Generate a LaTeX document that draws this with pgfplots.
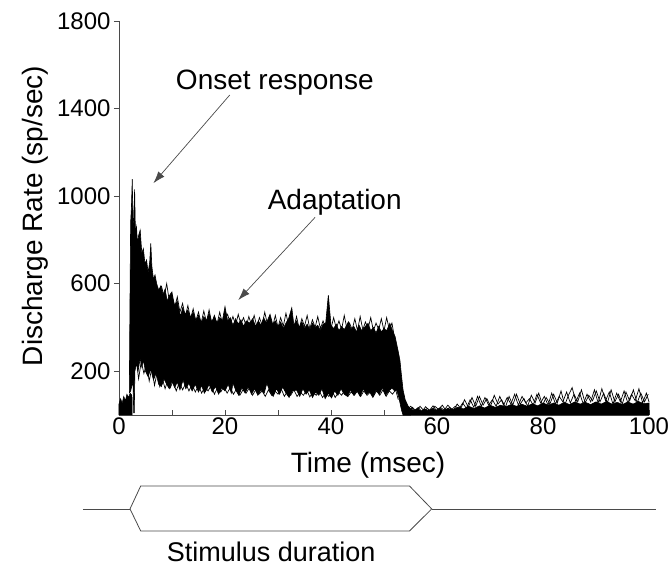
\documentclass[border=0pt]{standalone}
\usepackage{fontspec}
\setmainfont{Liberation Sans}
\usepackage{pgfplots}
\pgfplotsset{compat=1.18}
\usetikzlibrary{arrows.meta}
\definecolor{axgray}{HTML}{4A4A4A}
\begin{document}
\begin{tikzpicture}
\begin{axis}[
 scale only axis, width=530pt, height=394pt,
 xmin=0, xmax=100, ymin=0, ymax=1800,
 axis x line=bottom, axis y line=left,
 axis line style={-, draw=axgray, line width=0.8pt},
 every outer x axis line/.append style={-},
 every outer y axis line/.append style={-},
 xtick={0,20,...,100}, minor xtick={10,30,...,90},
 ytick={200,600,1000,1400,1800},
 xtick align=inside, ytick align=outside,
 major tick length=5pt, minor tick length=5pt,
 tick style={draw=axgray, line width=0.8pt},
 /pgf/number format/assume math mode=true,
 /pgf/number format/1000 sep={},
 ticklabel style={font=\fontsize{24}{24}\selectfont},
 xticklabel style={yshift=1pt},
 xlabel={Time (msec)}, ylabel={Discharge Rate (sp/sec)},
 label style={font=\fontsize{28}{28}\selectfont},
 xlabel style={at={(axis description cs:0.47,-0.127)}, anchor=center},
 ylabel style={at={(axis description cs:-0.158,0.505)}, anchor=center},
 clip=false,
]
% pre-onset cluster
\addplot[fill=black, draw=black, line width=0.5pt] coordinates {
(0,0)(0,50)(0.3,75)(0.6,55)(0.9,85)(1.2,65)(1.5,95)(1.8,80)(2.1,100)(2.45,90)(2.5,0)};
% onset + adaptation band
\addplot[fill=black, draw=black, line width=0.6pt] coordinates {
(1.95,100)(2.05,450)(2.2,880)(2.35,950)(2.5,1077)(2.65,870)(2.8,900)(2.95,1031)(3.1,830)(3.3,860)(3.5,780)(3.7,820)(4.0,845)(4.3,740)(4.6,760)(4.9,690)(5.2,708)(5.5,650)(5.8,700)(6.0,784)(6.2,680)(6.5,620)(6.8,640)(7.1,601)(7.5,570)(7.9,590)(8.3,550)(8.7,575)(9.1,520)(9.5,545)(9.9,560)(10.5,500)(11.0,520)(11.6,449)(12.0,490)(12.5,460)(13.0,480)(13.5,445)(14.0,470)(14.5,430)(15.0,455)(15.5,419)(16.0,450)(16.5,430)(17.0,465)(17.5,425)(18.0,450)(18.5,420)(19.0,445)(19.5,430)(20.0,495)(20.5,430)(21.0,445)(21.5,410)(22.0,440)(22.5,415)(23.0,435)(23.5,405)(24.0,430)(24.7,420)(25.2,440)(25.8,405)(26.3,430)(26.8,410)(27.3,445)(27.8,420)(28.5,460)(29.0,415)(29.5,430)(30.0,400)(30.5,425)(31.0,395)(31.5,420)(32.0,440)(32.6,490)(33.0,410)(33.5,430)(34.0,400)(34.5,426)(35.0,395)(35.5,415)(36.0,390)(36.5,420)(37.0,400)(37.5,410)(38.0,385)(38.5,415)(39.0,420)(39.5,548)(40.0,410)(40.5,395)(41.0,415)(41.5,385)(42.0,405)(42.5,390)(43.3,426)(43.8,390)(44.3,405)(44.8,380)(45.3,410)(45.8,385)(46.3,400)(47.0,419)(47.5,385)(48.0,400)(48.5,375)(49.0,405)(49.5,380)(50.0,395)(50.5,385)(51.1,419)(51.6,385)(52.1,358)(52.6,300)(53.0,251)(53.3,180)(53.6,114)(54.0,70)(54.6,38)(55.0,20)
(55.0,0)(53.6,0)(53.3,23)(52.8,80)(52.4,114)(52.0,110)(51.5,123)(50.9,110)(50.3,90)(49.7,125)(49.1,95)(48.5,115)(47.9,80)(47.3,105)(46.7,95)(46.1,120)(45.5,85)(44.9,110)(44.3,90)(43.7,115)(43.1,85)(42.5,95)(41.9,120)(41.3,90)(40.7,110)(40.1,78)(39.5,100)(38.9,75)(38.3,120)(37.7,90)(37.1,105)(36.5,80)(35.9,115)(35.3,95)(34.7,120)(34.1,85)(33.5,114)(32.7,110)(32.1,80)(31.5,100)(30.9,128)(30.3,95)(29.7,120)(29.1,85)(28.5,105)(27.9,145)(27.4,100)(26.8,115)(26.2,90)(25.6,120)(25.0,95)(24.4,130)(23.8,100)(23.2,125)(22.6,90)(22.0,115)(21.5,146)(21.2,100)(20.6,140)(20.0,110)(19.4,125)(18.8,95)(18.2,130)(17.6,105)(17.0,140)(16.5,114)(16.1,100)(15.6,135)(15.0,105)(14.4,140)(13.8,110)(13.2,145)(12.6,120)(12.1,160)(11.5,115)(11.0,150)(10.5,125)(10.0,155)(9.5,120)(9.0,140)(8.5,165)(8.0,130)(7.5,140)(7.0,190)(6.5,160)(6.0,210)(5.5,175)(5.0,200)(4.6,250)(4.3,220)(4.0,260)(3.6,200)(3.3,237)(3.0,200)(2.88,10)(2.78,10)(2.65,150)(2.4,130)(2.2,110)(1.95,100)};
% lower-edge single trace
\addplot[black, line width=0.7pt] coordinates {
(3.2,265)(3.7,165)(4.2,245)(4.7,190)(5.2,235)(5.7,155)(6.2,215)(6.7,135)(7.2,195)(7.7,130)(8.2,165)(8.7,120)(9.2,160)(9.7,125)(10.2,155)(10.8,110)(11.4,150)(12.0,115)(12.6,145)(13.2,110)(13.8,140)(14.4,105)(15.0,135)(15.6,100)(16.2,130)(16.8,110)(17.4,135)(18.0,95)(18.6,125)(19.2,105)(19.8,130)(20.4,100)(21.0,125)(21.6,95)(22.2,120)(22.8,90)(23.4,115)(24.0,100)(24.6,125)(25.2,90)(25.8,115)(26.4,95)(27.0,110)(27.6,85)(28.2,115)(28.8,90)(29.4,110)(30.0,95)(30.6,120)(31.2,85)(31.8,110)(32.4,90)(33.0,115)(33.6,85)(34.2,105)(34.8,90)(35.4,115)(36.0,83)(36.6,105)(37.2,90)(37.8,110)(38.4,80)(39.0,100)(39.6,85)(40.2,110)(40.8,80)(41.4,105)(42.0,90)(42.6,115)(43.2,85)(43.8,105)(44.4,90)(45.0,110)(45.6,85)(46.2,110)(46.8,90)(47.4,105)(48.0,85)(48.6,110)(49.2,90)(49.8,115)(50.4,85)(51.0,110)(51.6,95)(52.2,115)(52.7,70)};
% upper-edge single trace
\addplot[black, line width=0.7pt] coordinates {
(8,590)(8.5,540)(9,600)(9.5,520)(10,560)(10.5,490)(11,540)(11.5,470)(12,510)(12.5,450)(13,500)(13.5,440)(14,485)(14.5,430)(15,470)(15.5,420)(16,475)(16.5,425)(17,480)(17.5,420)(18,455)(18.5,415)(19,470)(19.5,420)(20,440)(20.5,460)(21,415)(21.5,450)(22,410)(22.5,460)(23,415)(23.5,445)(24,405)(24.5,450)(25,410)(25.5,455)(26,405)(26.5,445)(27,410)(27.5,470)(28,415)(28.5,440)(29,405)(29.5,455)(30,400)(30.5,445)(31,405)(31.5,465)(32,410)(32.5,440)(33,400)(33.5,450)(34,395)(34.5,440)(35,405)(35.5,455)(36,395)(36.5,435)(37,400)(37.5,450)(38,395)(38.5,430)(39,400)(39.5,440)(40,395)(40.5,445)(41,395)(41.5,430)(42,390)(42.5,455)(43,395)(43.5,420)(44,390)(44.5,440)(45,385)(45.5,450)(46,390)(46.5,425)(47,395)(47.5,445)(48,385)(48.5,420)(49,390)(49.5,440)(50,385)(50.5,445)(51,390)(51.5,420)(52,350)};
% post-stimulus solid part
\addplot[fill=black, draw=black, line width=0.5pt] coordinates {
(53.6,0)(53.6,60)(54.2,45)(55,30)(55.6,20)(56.3,30)(57,18)(57.7,28)(58.4,20)(59.1,30)(59.8,22)(60.5,32)(61.2,20)(62,30)(63,25)(64,35)(65,28)(66,40)(67,30)(68,42)(69,32)(70,45)(71,35)(72,45)(73,38)(74,48)(75,40)(76,50)(77,40)(78,52)(79,42)(80,55)(81,45)(82,55)(83,45)(84,58)(85,48)(86,60)(87,50)(88,58)(89,48)(90,60)(91,50)(92,62)(93,50)(94,58)(95,48)(96,60)(97,50)(98,62)(99,52)(100,55)(100,0)};
% post-stimulus traces
\addplot[black, line width=0.7pt] coordinates {
(54,60)(54.7,20)(55.4,35)(56.1,15)(56.8,40)(57.5,20)(58.2,30)(58.9,15)(59.6,40)(60.3,25)(61,45)(61.7,20)(62.4,35)(63.1,20)(63.8,50)(64.5,30)(65.2,70)(65.9,35)(66.6,80)(67.3,40)(68,85)(68.7,45)(69.4,75)(70.1,40)(70.8,90)(71.5,50)(72.2,70)(72.9,35)(73.6,85)(74.3,45)(75,95)(75.7,50)(76.4,75)(77.1,40)(77.8,90)(78.5,55)(79.2,100)(79.9,45)(80.6,80)(81.3,50)(82,95)(82.7,55)(83.4,110)(84.1,45)(84.8,90)(85.5,125)(86.2,60)(86.9,100)(87.6,50)(88.3,95)(89,60)(89.7,115)(90.4,55)(91.1,120)(91.8,65)(92.5,105)(93.2,50)(93.9,100)(94.6,60)(95.3,110)(96,55)(96.7,95)(97.4,65)(98.1,120)(98.8,55)(99.5,100)(100,60)};
\addplot[black, line width=0.7pt] coordinates {
(54.35,25)(55.05,40)(55.75,18)(56.45,35)(57.15,15)(57.85,38)(58.55,20)(59.25,42)(59.95,18)(60.65,35)(61.35,22)(62.05,45)(62.75,25)(63.45,40)(64.15,28)(64.85,55)(65.55,30)(66.25,70)(66.95,35)(67.65,85)(68.35,40)(69.05,80)(69.75,45)(70.45,70)(71.15,40)(71.85,85)(72.55,45)(73.25,80)(73.95,50)(74.65,95)(75.35,45)(76.05,85)(76.75,55)(77.45,75)(78.15,45)(78.85,95)(79.55,55)(80.25,85)(80.95,45)(81.65,100)(82.35,50)(83.05,85)(83.75,60)(84.45,105)(85.15,55)(85.85,95)(86.55,60)(87.25,115)(87.95,55)(88.65,90)(89.35,65)(90.05,110)(90.75,60)(91.45,100)(92.15,55)(92.85,115)(93.55,60)(94.25,95)(94.95,50)(95.65,105)(96.35,65)(97.05,115)(97.75,55)(98.45,100)(99.15,60)(99.85,95)};
% stimulus duration marker
\addplot[axgray, line width=0.8pt] coordinates {(-6.8,-429)(2.08,-429)};
\addplot[axgray, line width=0.8pt] coordinates {(59.0,-429)(101.3,-429)};
\addplot[axgray, line width=0.8pt] coordinates {(2.08,-429)(4.1,-324)(54.8,-324)(59.0,-429)(54.8,-530)(4.1,-530)(2.08,-429)};
% annotations
\node[font=\fontsize{28}{28}\selectfont] at (axis cs:29.4,1518) {Onset response};
\node[font=\fontsize{28}{28}\selectfont] at (axis cs:40.7,974) {Adaptation};
\node[font=\fontsize{27}{27}\selectfont] at (axis cs:28.7,-626) {Stimulus duration};
\draw[axgray, line width=0.7pt, -{Latex[length=12pt,width=8pt]}] (axis cs:20.9,1462) -- (axis cs:6.5,1059);
\draw[axgray, line width=0.7pt, -{Latex[length=12pt,width=8pt]}] (axis cs:37.0,903) -- (axis cs:22.5,525);
\coordinate (BL) at (rel axis cs:-0.2245,-0.3832);
\coordinate (TR) at (rel axis cs:1.0434,1.0533);
\end{axis}
\pgfresetboundingbox
\useasboundingbox (BL) rectangle (TR);
\end{tikzpicture}
\end{document}
